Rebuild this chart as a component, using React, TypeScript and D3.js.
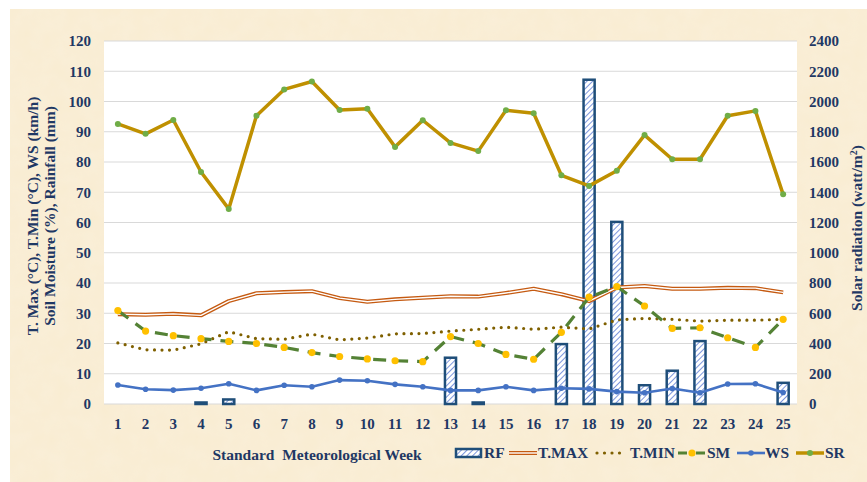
import React from "react";
import * as d3 from "d3";

const weeks = [1,2,3,4,5,6,7,8,9,10,11,12,13,14,15,16,17,18,19,20,21,22,23,24,25];
const rf =   [0,0,0,0.5,1.5,0,0,0,0,0,0,0,15.3,0.5,0,0,19.8,107.2,60.2,6.2,11,20.8,0,0,7];
const tmax = [29.7,29.5,29.8,29.3,34,36.6,37,37.3,35,33.8,34.6,35.1,35.6,35.5,36.7,38.1,36.3,34,38.5,39,38.1,38.1,38.4,38.3,36.9];
const tmin = [20.2,17.9,17.8,19.9,23.9,21.6,21.4,23.1,21.2,21.8,23.2,23.3,24.1,24.7,25.4,24.7,25.4,24.8,27.8,28.3,28,27.4,27.7,27.7,28];
const sm =   [30.9,24.1,22.6,21.6,20.7,20,18.7,17,15.7,14.9,14.3,14,22.3,20,16.4,14.8,23.7,35.3,38.8,32.4,25,25.2,21.9,18.7,28];
const ws =   [6.3,4.9,4.6,5.2,6.7,4.5,6.2,5.7,7.9,7.7,6.5,5.7,4.5,4.5,5.7,4.5,5.2,5,4.1,3.7,5.1,3.7,6.6,6.7,3.8];
const sr =   [1852,1786,1878,1534,1290,1906,2080,2132,1944,1952,1700,1876,1726,1672,1942,1922,1512,1442,1542,1778,1618,1618,1906,1938,1386];
const leftTicks = [0,10,20,30,40,50,60,70,80,90,100,110,120];
const rightTicks = [0,200,400,600,800,1000,1200,1400,1600,1800,2000,2200,2400];

const W = 867, H = 482;
const PL = 104, PR = 797, PT = 41, PB = 404;
const NAVY = "#1F3864";
const FONT = "Liberation Serif, DejaVu Serif, serif";

export default function App() {
  const x = d3.scaleBand<number>().domain(weeks).range([PL, PR]).padding(0);
  const yL = d3.scaleLinear().domain([0, 120]).range([PB, PT]);
  const yR = d3.scaleLinear().domain([0, 2400]).range([PB, PT]);
  const cx = (w: number) => (x(w) as number) + x.bandwidth() / 2;
  const lineL = (vals: number[]) =>
    d3.line<number>().x((_, i) => cx(weeks[i])).y((v) => yL(v))(vals) as string;
  const lineR = (vals: number[]) =>
    d3.line<number>().x((_, i) => cx(weeks[i])).y((v) => yR(v))(vals) as string;
  const bw = x.bandwidth() * 0.4;
  const txt = { fontFamily: FONT, fontWeight: 700 as const };

  return (
    <svg width={W} height={H} style={{ position: "absolute", left: 0, top: 0, fontFamily: FONT }}>
      <defs>
        <pattern id="hatch" patternUnits="userSpaceOnUse" width="4" height="4" patternTransform="rotate(45)">
          <rect width="4" height="4" fill="#FFFFFF" />
          <line x1="0" y1="0" x2="0" y2="4" stroke="#5B7BD5" strokeWidth="1.6" />
        </pattern>
        <filter id="tex">
          <feTurbulence type="fractalNoise" baseFrequency="0.06" numOctaves="3" seed="4" />
          <feColorMatrix type="matrix" values="0 0 0 0 0.96  0 0 0 0 0.89  0 0 0 0 0.76  0 0 0 0.45 0" />
          <feComposite in2="SourceGraphic" operator="in" />
        </filter>
      </defs>
      <rect x={0} y={0} width={W} height={H} fill="#FFFFFF" />
      <rect x={10} y={9} width={W - 10} height={H - 9} fill="#F9ECD1" />
      <rect x={10} y={9} width={W - 10} height={H - 9} fill="#FFF7E8" filter="url(#tex)" />
      <rect x={PL} y={PT} width={PR - PL} height={PB - PT} fill="#FFFFFF" />
      {leftTicks.map((t) => (
        <line key={"g" + t} x1={PL} x2={PR} y1={yL(t)} y2={yL(t)} stroke="#D9D9D9" strokeWidth={1} />
      ))}
      {leftTicks.map((t) => (
        <text key={"lt" + t} x={91} y={yL(t)} dy="0.35em" textAnchor="end" fontSize={15} style={txt} fill={NAVY}>
          {t}
        </text>
      ))}
      {rightTicks.map((t) => (
        <text key={"rt" + t} x={809} y={yR(t)} dy="0.35em" textAnchor="start" fontSize={15} style={txt} fill={NAVY}>
          {t}
        </text>
      ))}
      {weeks.map((w) => (
        <text key={"xt" + w} x={cx(w)} y={424} dy="0.35em" textAnchor="middle" fontSize={15} style={txt} fill={NAVY}>
          {w}
        </text>
      ))}
      {/* RF bars */}
      {weeks.map((w, i) =>
        rf[i] > 0 ? (
          <rect key={"b" + w} x={cx(w) - bw / 2} y={yL(rf[i])} width={bw} height={PB - yL(rf[i])}
            fill="url(#hatch)" stroke="#1F4E79" strokeWidth={2.5} />
        ) : null
      )}
      {/* T.MAX double line */}
      <path d={lineL(tmax)} fill="none" stroke="#C55A11" strokeWidth={4} strokeLinejoin="round" />
      <path d={lineL(tmax)} fill="none" stroke="#FFFFFF" strokeWidth={1.4} strokeLinejoin="round" />
      {/* T.MIN dotted */}
      <path d={lineL(tmin)} fill="none" stroke="#7F6000" strokeWidth={3.2} strokeLinecap="round" strokeDasharray="0 7.5" />
      {/* SM dashed */}
      <path d={lineL(sm)} fill="none" stroke="#548235" strokeWidth={3.2} strokeDasharray="13 9" />
      {weeks.map((w, i) => (
        <circle key={"sm" + w} cx={cx(w)} cy={yL(sm[i])} r={3.6} fill="#FFC000" />
      ))}
      {/* WS */}
      <path d={lineL(ws)} fill="none" stroke="#4472C4" strokeWidth={2.6} strokeLinejoin="round" />
      {weeks.map((w, i) => (
        <circle key={"ws" + w} cx={cx(w)} cy={yL(ws[i])} r={2.8} fill="#4472C4" />
      ))}
      {/* SR */}
      <path d={lineR(sr)} fill="none" stroke="#BF9000" strokeWidth={3.5} strokeLinejoin="round" />
      {weeks.map((w, i) => (
        <circle key={"sr" + w} cx={cx(w)} cy={yR(sr[i])} r={3} fill="#70AD47" />
      ))}
      {/* Axis titles */}
      <text transform="translate(38,216) rotate(-90)" textAnchor="middle" fontSize={15.5} style={txt} fill={NAVY}>
        T. Max (°C), T.Min (°C), WS (km/h)
      </text>
      <text transform="translate(55,216) rotate(-90)" textAnchor="middle" fontSize={15.5} style={txt} fill={NAVY}>
        Soil Moisture (%), Rainfall (mm)
      </text>
      <text transform="translate(857,228) rotate(-90)" dy="0.35em" textAnchor="middle" fontSize={15.5} style={txt} fill={NAVY}>
        Solar radiation (watt/m<tspan dy="-5" fontSize={10}>2</tspan><tspan dy="5">)</tspan>
      </text>
      <text x={317} y={455} dy="0.35em" textAnchor="middle" fontSize={15.5} style={txt} fill={NAVY} xmlSpace="preserve">
        Standard  Meteorological Week
      </text>
      {/* Legend */}
      <g fontSize={15.5} style={txt} fill={NAVY}>
        <rect x={456} y={449} width={25} height={8} fill="url(#hatch)" stroke="#1F4E79" strokeWidth={2.5} />
        <text x={484} y={453} dy="0.35em">RF</text>
        <line x1={509} x2={537} y1={453} y2={453} stroke="#C55A11" strokeWidth={4} />
        <line x1={509} x2={537} y1={453} y2={453} stroke="#FFFFFF" strokeWidth={1.4} />
        <text x={538} y={453} dy="0.35em">T.MAX</text>
        <line x1={597} x2={624} y1={453} y2={453} stroke="#7F6000" strokeWidth={3.2} strokeLinecap="round" strokeDasharray="0 7.5" />
        <text x={630} y={453} dy="0.35em">T.MIN</text>
        <line x1={678} x2={706} y1={453} y2={453} stroke="#548235" strokeWidth={3.2} strokeDasharray="9 9" />
        <circle cx={692} cy={453} r={3.6} fill="#FFC000" />
        <text x={707} y={453} dy="0.35em">SM</text>
        <line x1={737} x2={765} y1={453} y2={453} stroke="#4472C4" strokeWidth={2.6} />
        <circle cx={751} cy={453} r={2.8} fill="#4472C4" />
        <text x={765} y={453} dy="0.35em">WS</text>
        <line x1={796} x2={824} y1={453} y2={453} stroke="#BF9000" strokeWidth={3.5} />
        <circle cx={810} cy={453} r={3} fill="#70AD47" />
        <text x={825} y={453} dy="0.35em">SR</text>
      </g>
    </svg>
  );
}
